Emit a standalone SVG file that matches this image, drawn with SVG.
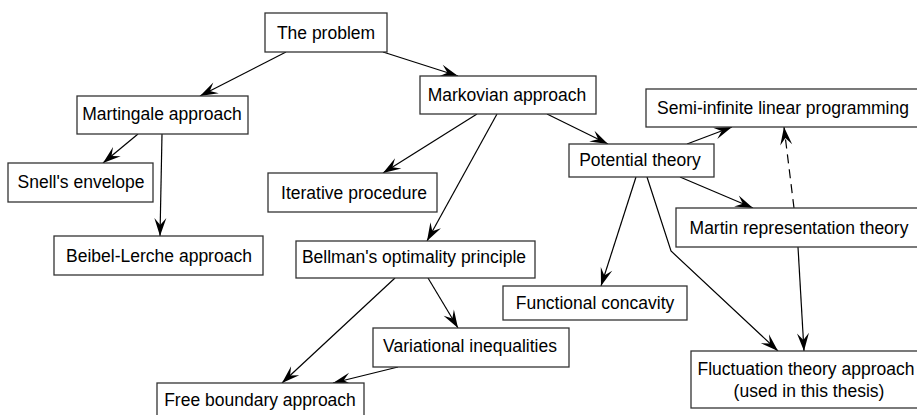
<svg xmlns="http://www.w3.org/2000/svg" width="917" height="415" viewBox="0 0 917 415">
<style>
  .box { fill: #ffffff; stroke: #333333; stroke-width: 1.3; }
  .lbl { font-family: "Liberation Sans", Arial, sans-serif; font-size: 17.5px; fill: #000000; text-anchor: middle; }
  .edge { fill: none; stroke: #000000; stroke-width: 1.2; marker-end: url(#arr); }
  .dash { stroke-dasharray: 9,6; }
</style>
<defs>
  <marker id="arr" markerUnits="userSpaceOnUse" viewBox="-19 -7 20 14" markerWidth="20" markerHeight="14" refX="0" refY="0" orient="auto">
    <path d="M0,0 L-18,-6 L-11,0 L-18,6 Z" fill="#000000"/>
  </marker>
</defs>
<rect width="917" height="415" fill="#ffffff"/>
<g id="connectors">
  <path class="edge" d="M286,52 L200,96"/>
  <path class="edge" d="M383,52 L458,76"/>
  <path class="edge" d="M138,134 L103,163"/>
  <path class="edge" d="M162,134 L160,236"/>
  <path class="edge" d="M477,114 L383,173"/>
  <path class="edge" d="M497,114 L427,241"/>
  <path class="edge" d="M547,114 L608,144"/>
  <path class="edge" d="M687,144 L732,127"/>
  <path class="edge" d="M680,177 L753,208"/>
  <path class="edge dash" d="M794,208 L784,127"/>
  <path class="edge" d="M636,177 L601,286"/>
  <path class="edge" d="M647,177 L671,251 L778,351"/>
  <path class="edge" d="M798,247 L804,351"/>
  <path class="edge" d="M395,278 L282,383"/>
  <path class="edge" d="M428,278 L458,328"/>
  <path class="edge" d="M398,367 L333,383"/>
</g>
<g id="problem"><rect class="box" x="265" y="13" width="122" height="39"/><text class="lbl" x="326" y="39">The problem</text></g>
<g id="martingale"><rect class="box" x="77" y="96" width="171" height="38"/><text class="lbl" x="162" y="120">Martingale approach</text></g>
<g id="snell"><rect class="box" x="8" y="163" width="145" height="39"/><text class="lbl" x="81" y="188">Snell's envelope</text></g>
<g id="markovian"><rect class="box" x="420" y="76" width="176" height="38"/><text class="lbl" x="507" y="101">Markovian approach</text></g>
<g id="semi"><rect class="box" x="646" y="89" width="280" height="38"/><text class="lbl" x="783" y="114">Semi-infinite linear programming</text></g>
<g id="potential"><rect class="box" x="569" y="144" width="145" height="33"/><text class="lbl" x="640" y="166">Potential theory</text></g>
<g id="iterative"><rect class="box" x="268" y="173" width="169" height="39"/><text class="lbl" x="354" y="199">Iterative procedure</text></g>
<g id="beibel"><rect class="box" x="54" y="236" width="209" height="39"/><text class="lbl" x="159" y="262">Beibel-Lerche approach</text></g>
<g id="bellman"><rect class="box" x="296" y="241" width="239" height="37"/><text class="lbl" x="414" y="263">Bellman's optimality principle</text></g>
<g id="martin"><rect class="box" x="676" y="208" width="250" height="39"/><text class="lbl" x="799" y="234">Martin representation theory</text></g>
<g id="functional"><rect class="box" x="503" y="286" width="184" height="34"/><text class="lbl" x="595" y="309">Functional concavity</text></g>
<g id="variational"><rect class="box" x="373" y="328" width="196" height="39"/><text class="lbl" x="470" y="352">Variational inequalities</text></g>
<g id="fluctuation"><rect class="box" x="691" y="351" width="240" height="57"/><text class="lbl" x="806" y="375">Fluctuation theory approach</text><text class="lbl" x="809" y="397">(used in this thesis)</text></g>
<g id="free"><rect class="box" x="157" y="383" width="207" height="42"/><text class="lbl" x="260" y="406">Free boundary approach</text></g>
</svg>
